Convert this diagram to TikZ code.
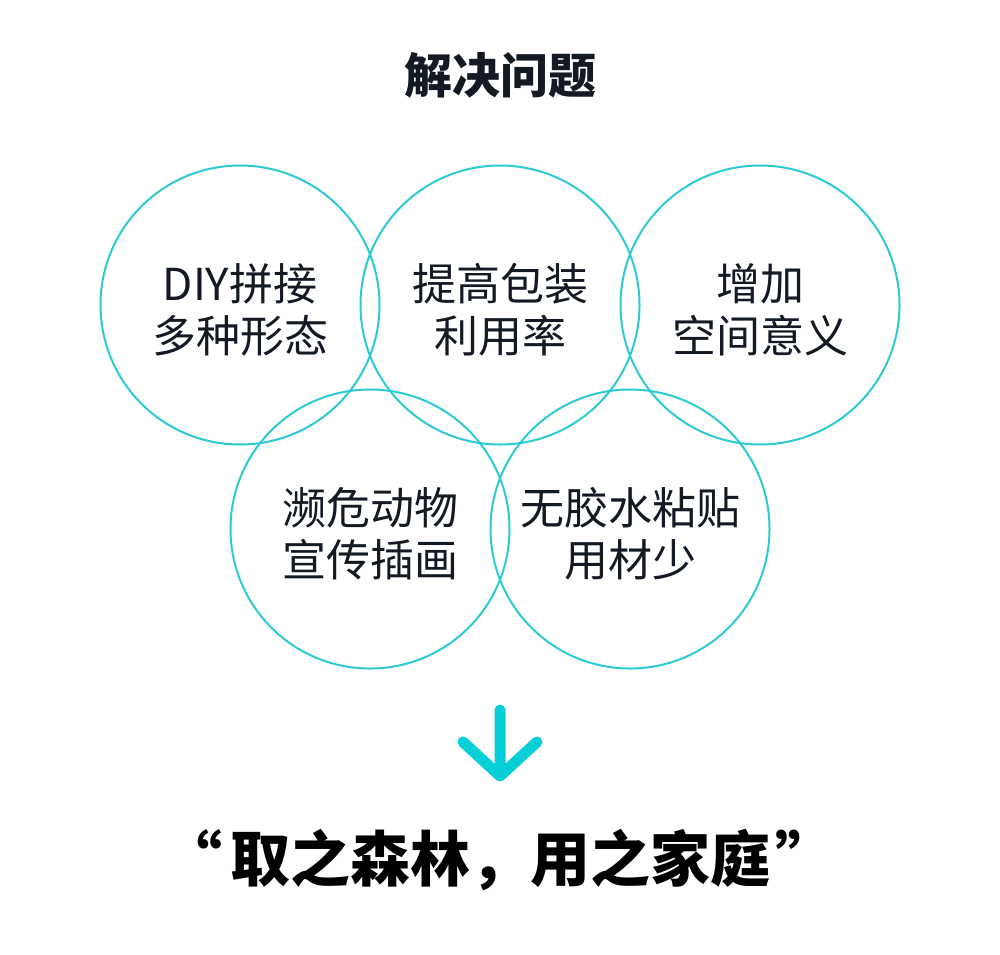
\documentclass[tikz,border=0pt]{standalone}
\usepackage{fontspec}
\newfontfamily\cjk{Noto Sans CJK SC}
\definecolor{ring}{HTML}{2CCBD3}
\definecolor{arrowcyan}{HTML}{06CFD7}
\definecolor{ink}{HTML}{141A24}
\begin{document}
\begin{tikzpicture}[x=0.5pt,y=-0.5pt,
  bubble/.style={circle,draw=ring,line width=1pt,minimum size=139.5pt,inner sep=0pt},
  words/.style={align=center,text=ink,font=\cjk\fontsize{22pt}{26pt}\selectfont},
  heading/.style={text=ink,font=\cjk\bfseries\fontsize{24pt}{28pt}\selectfont},
  motto/.style={text=black,font=\cjk\bfseries\fontsize{30pt}{32pt}\selectfont}]
\useasboundingbox[fill=white] (0,0) rectangle (1000,954);
\node[heading] (title) at (500,75) {解决问题};
\node[bubble] (diy) at (240,305) {};
\node[bubble] (pack) at (500,305) {};
\node[bubble] (space) at (760,305) {};
\node[bubble] (animal) at (370,529) {};
\node[bubble] (glue) at (630,529) {};
\node[words] (diytext) at ([yshift=-2.5pt]diy.center) {DIY拼接\\多种形态};
\node[words] (packtext) at ([yshift=-2.5pt]pack.center) {提高包装\\利用率};
\node[words] (spacetext) at ([yshift=-2.5pt]space.center) {增加\\空间意义};
\node[words] (animaltext) at ([yshift=-2.5pt]animal.center) {濒危动物\\宣传插画};
\node[words] (gluetext) at ([yshift=-2.5pt]glue.center) {无胶水粘贴\\用材少};
% arrow down to the motto
\coordinate (top) at (500,710);
\coordinate (tip) at (500,776);
\draw[arrowcyan,line width=5.5pt,line cap=round,line join=round]
  (top) -- (tip) (463,742) -- (tip) -- (537,742);
\node[motto] (motto) at (499,860) {“\hspace{4pt}取之森林，用之家庭\hspace{2.5pt}”};
\end{tikzpicture}
\end{document}
